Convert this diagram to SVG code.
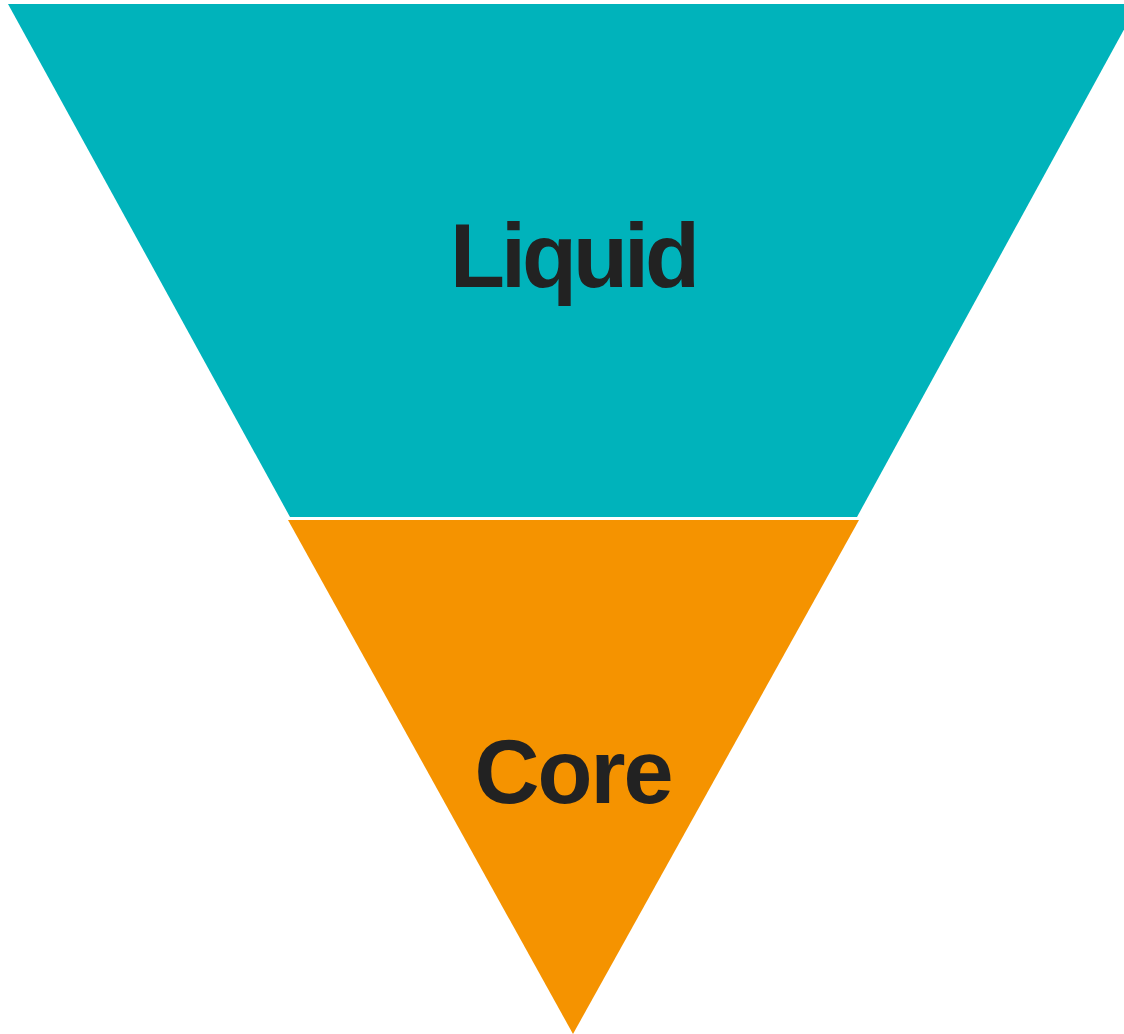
<svg xmlns="http://www.w3.org/2000/svg" width="1124" height="1034" viewBox="0 0 1124 1034">
<style>
.lbl{font-family:"Liberation Sans",Arial,sans-serif;font-weight:bold;font-size:90px;fill:#222222;text-anchor:middle}
</style>
<rect width="1124" height="1034" fill="#ffffff"/>
<g id="liquid">
<polygon points="8,4 1138,4 857,517 290,517" fill="#00B3BB"/>
<text class="lbl" x="573" y="287" letter-spacing="-4">Liquid</text>
</g>
<g id="core">
<polygon points="288,520 859,520 573,1034" fill="#F59300"/>
<text class="lbl" x="573" y="803" letter-spacing="-2">Core</text>
</g>
<g id="connectors"/>
</svg>
